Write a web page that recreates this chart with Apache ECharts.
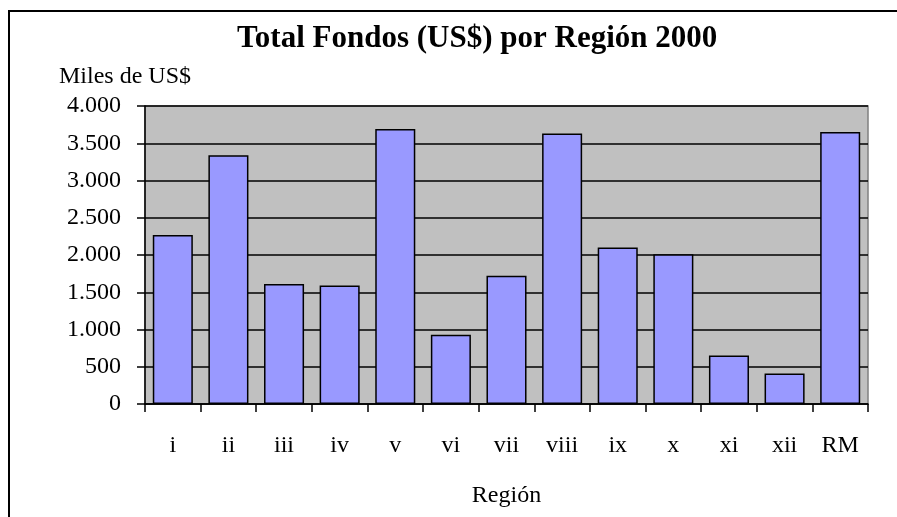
<!DOCTYPE html>
<html>
<head>
<meta charset="utf-8">
<script src="https://cdn.jsdelivr.net/npm/echarts@6/dist/echarts.min.js"></script>
<style>
  html, body { margin: 0; padding: 0; background: #fff; }
  #chart { width: 897px; height: 517px; }
</style>
</head>
<body>
<div id="chart"></div>
<script>
const regiones = ['i', 'ii', 'iii', 'iv', 'v', 'vi', 'vii', 'viii', 'ix', 'x', 'xi', 'xii', 'RM'];
const fondos = [2270, 3340, 1610, 1590, 3690, 930, 1720, 3630, 2100, 2010, 650, 410, 3650];
const yTicks = { min: 0, max: 4000, step: 500 };

const serif = '"Liberation Serif", "Times New Roman", serif';

function fmtMiles(v) {
  if (v < 1000) return String(v);
  const s = String(v);
  return s.slice(0, s.length - 3) + '.' + s.slice(-3);
}

const chart = echarts.init(document.getElementById('chart'));
chart.setOption({
  animation: false,
  title: {
    text: 'Total Fondos (US$) por Región 2000',
    left: 232,
    top: 18,
    textStyle: { fontFamily: serif, fontSize: 31, fontWeight: 'bold', color: '#000' }
  },
  graphic: [
    {
      type: 'rect',
      shape: { x: 9, y: 11, width: 1000, height: 1000 },
      style: { fill: 'none', stroke: '#000', lineWidth: 2 }
    },
    {
      type: 'text',
      left: 59,
      top: 65,
      style: { text: 'Miles de US$', fontFamily: serif, fontSize: 24, fill: '#000' }
    }
  ],
  grid: {
    left: 145, right: 29, top: 106, bottom: 113,
    show: true,
    backgroundColor: '#C0C0C0',
    borderColor: '#808080',
    borderWidth: 1.5
  },
  xAxis: {
    type: 'category',
    data: regiones,
    name: 'Región',
    nameLocation: 'middle',
    nameGap: 80,
    nameTextStyle: { fontFamily: serif, fontSize: 24, color: '#000' },
    axisLine: { lineStyle: { color: '#000', width: 1.5 } },
    axisTick: { show: true, length: 8, lineStyle: { color: '#000', width: 1.5 } },
    axisLabel: { fontFamily: serif, fontSize: 24, color: '#000', margin: 30 }
  },
  yAxis: {
    type: 'value',
    min: yTicks.min,
    max: yTicks.max,
    interval: yTicks.step,
    axisLine: { show: true, lineStyle: { color: '#000', width: 1.5 } },
    axisTick: { show: true, length: 8, lineStyle: { color: '#000', width: 1.5 } },
    axisLabel: { fontFamily: serif, fontSize: 24, color: '#000', margin: 24, formatter: fmtMiles },
    splitLine: { show: true, lineStyle: { color: '#000', width: 1.5 } }
  },
  series: [{
    type: 'bar',
    data: fondos,
    barCategoryGap: '28%',
    itemStyle: { color: '#9999FF', borderColor: '#000', borderWidth: 1.5 }
  }]
});
</script>
</body>
</html>
